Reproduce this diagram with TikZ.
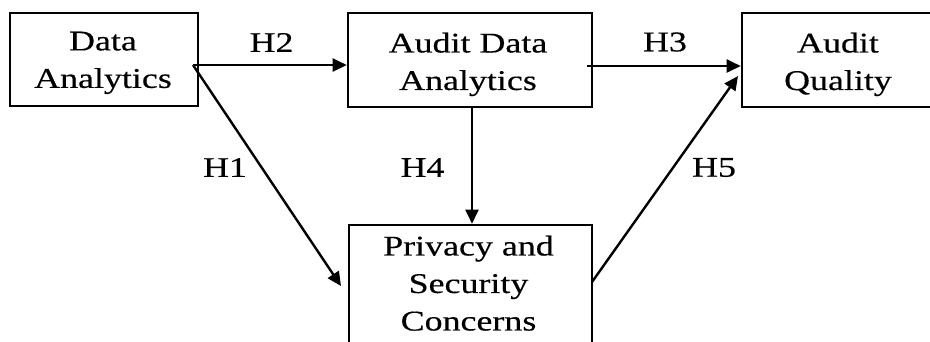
\documentclass[tikz,border=0pt]{standalone}
\usepackage{fontspec}
\setmainfont{Liberation Serif}
\newfontfamily\widefont[FakeStretch=1.26,FakeBold=0.4]{Liberation Serif}
\usetikzlibrary{arrows.meta,calc}
\tikzset{
  box/.style={draw, line width=2.6pt, rectangle, inner sep=0pt},
  boxtext/.style={font=\widefont\fontsize{28.5}{37.5}\selectfont, align=center,
    inner sep=0pt, anchor=north},
  hyp/.style={font=\widefont\fontsize{28.5}{32}\selectfont, inner sep=0pt},
  link/.style={line width=2.4pt, -{Triangle[length=14pt,width=13pt]}}
}
\begin{document}
\begin{tikzpicture}[x=1pt,y=-1pt]
  \useasboundingbox (0,0) rectangle (930,341);
  \clip (0,0) rectangle (930,341);
  % variable boxes
  \node[box, minimum width=188pt, minimum height=93pt] (da) at (104,59.5) {};
  \node[box, minimum width=244pt, minimum height=94pt] (ada) at (470,60) {};
  \node[box, minimum width=200pt, minimum height=94pt] (aq) at (842,60) {};
  \node[box, minimum width=243pt, minimum height=140pt] (psc) at (470.5,295) {};
  % box captions
  \node[boxtext] (dat) at (103,31.5) {Data\\Analytics};
  \node[boxtext] (adat) at (468,32.5) {Audit Data\\Analytics};
  \node[boxtext] (aqt) at (838,32.5) {Audit\\Quality};
  \node[boxtext] (psct) at (468.5,235.5) {Privacy and\\Security\\Concerns};
  % arrow origins and ends
  \coordinate (s1) at (193,65);
  \coordinate (s3) at (587,66);
  \coordinate (e1) at (341,286);
  \coordinate (e5) at (738,76);
  \coordinate (s5) at (592,282);
  % hypothesis paths
  \draw[link] (s1) -- (ada.west |- s1);
  \draw[link] (s1) -- (e1);
  \draw[link] (s3) -- (aq.west |- s3);
  \draw[link] ($(ada.south)+(2,0)$) -- ($(psc.north)+(1.5,0)$);
  \draw[link] (s5) -- (e5);
  % labels
  \node[hyp] (h2) at (271.5,42.5) {H2};
  \node[hyp] (h3) at (665,42) {H3};
  \node[hyp] (h1) at (225,167.5) {H1};
  \node[hyp] (h4) at (422.5,167.5) {H4};
  \node[hyp] (h5) at (714,167.5) {H5};
\end{tikzpicture}
\end{document}
